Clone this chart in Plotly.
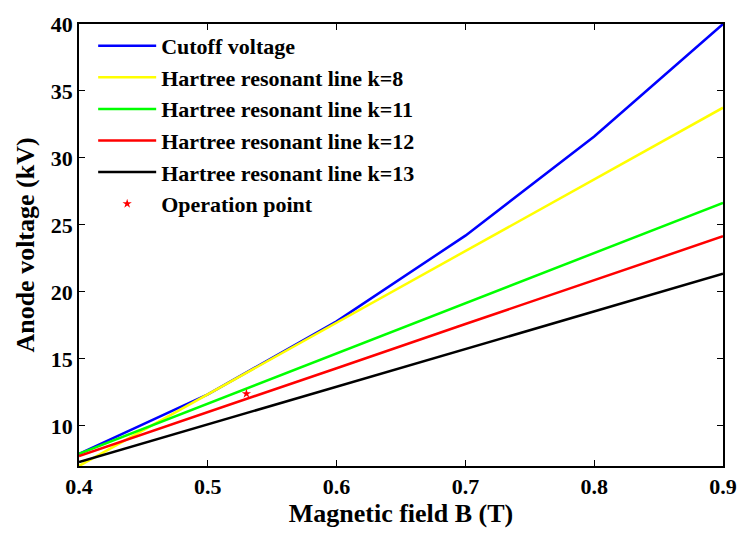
import plotly.graph_objects as go

# Data
B = [0.4, 0.5, 0.6, 0.7, 0.8, 0.9]
cutoff = [7.9, 12.35, 17.8, 24.2, 31.6, 40.0]
hartree_k8 = [7.0, 12.35, 17.7, 23.05, 28.4, 33.75]
hartree_k11 = [7.9, 11.65, 15.4, 19.15, 22.9, 26.65]
hartree_k12 = [7.75, 11.0, 14.3, 17.6, 20.9, 24.15]
hartree_k13 = [7.3, 10.1, 12.9, 15.7, 18.55, 21.35]
op_B = [0.53]
op_V = [12.4]

series = [
    ("Cutoff voltage", cutoff, "#0000FF"),
    ("Hartree resonant line k=8", hartree_k8, "#FFFF00"),
    ("Hartree resonant line k=11", hartree_k11, "#00FF00"),
    ("Hartree resonant line k=12", hartree_k12, "#FF0000"),
    ("Hartree resonant line k=13", hartree_k13, "#000000"),
]

FONT = "Liberation Serif"

fig = go.Figure()
for name, vals, color in series:
    fig.add_trace(go.Scatter(x=B, y=vals, mode="lines", name=name,
                             line=dict(color=color, width=2.5)))
fig.add_trace(go.Scatter(x=op_B, y=op_V, mode="markers", name="Operation point",
                         marker=dict(symbol="star", size=7, color="#FF0000")))

axis_common = dict(
    showline=True, linecolor="black", linewidth=1.5, mirror="ticks",
    ticks="inside", ticklen=6, tickwidth=1, tickcolor="black",
    showgrid=False, zeroline=False,
    tickfont=dict(family=FONT, size=22, color="black", weight="bold"),
)

fig.update_xaxes(range=[0.4, 0.9], dtick=0.1, tick0=0.4, tickformat=".1f",
                 title=dict(text="Magnetic field B (T)", standoff=4,
                            font=dict(family=FONT, size=26, color="black", weight="bold")),
                 **axis_common)
fig.update_yaxes(range=[7, 40], dtick=5, tick0=0,
                 title=dict(text="Anode voltage (kV)", standoff=9,
                            font=dict(family=FONT, size=26, color="black", weight="bold")),
                 **axis_common)

fig.update_layout(
    width=749, height=533,
    margin=dict(l=79, r=15, t=19, b=59),
    plot_bgcolor="white", paper_bgcolor="white",
    showlegend=True,
    legend=dict(x=0.022, y=0.998, xanchor="left", yanchor="top",
                bgcolor="rgba(0,0,0,0)", borderwidth=0,
                itemwidth=58, tracegroupgap=0,
                font=dict(family=FONT, size=22, color="black", weight="bold")),
)

fig.write_html("out.html")
